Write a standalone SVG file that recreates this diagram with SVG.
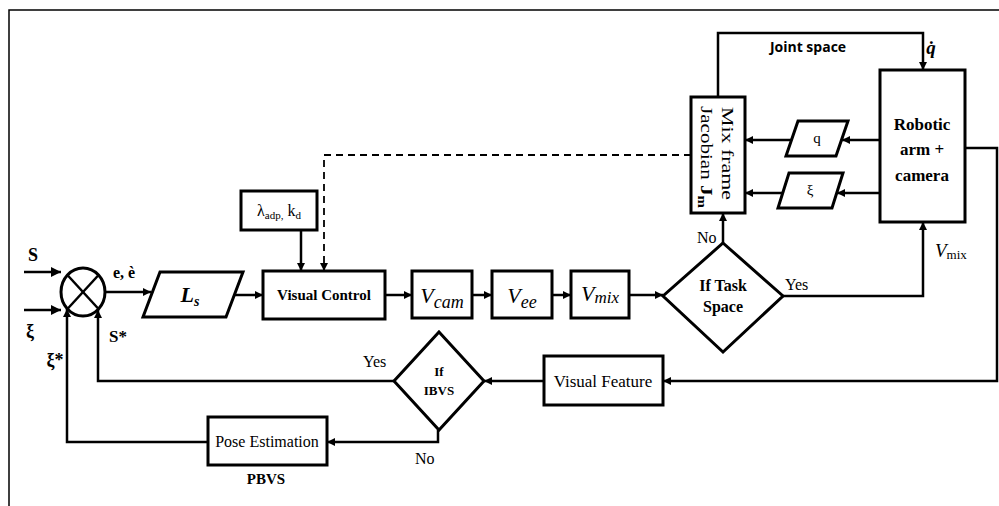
<svg xmlns="http://www.w3.org/2000/svg" width="999" height="506" viewBox="0 0 999 506">
<defs>
<marker id="ah" viewBox="0 0 10 10" refX="10" refY="5" markerWidth="9" markerHeight="8" markerUnits="userSpaceOnUse" orient="auto"><path d="M0,0 L10,5 L0,10 Z" fill="#000"/></marker>
<marker id="ahb" viewBox="0 0 10 10" refX="10" refY="5" markerWidth="11" markerHeight="10" markerUnits="userSpaceOnUse" orient="auto"><path d="M0,0 L10,5 L0,10 Z" fill="#000"/></marker>
</defs>
<style>
.box{fill:#fff;stroke:#000;stroke-width:3}
.ln{fill:none;stroke:#000;stroke-width:2.5}
.dash{fill:none;stroke:#000;stroke-width:1.8;stroke-dasharray:7,5}
.t{font-family:"Liberation Serif","Times New Roman",serif;fill:#000}
.b{font-weight:bold}
.i{font-style:italic}
</style>
<rect width="999" height="506" fill="#fff"/>
<path d="M9,506 V10 H999" fill="none" stroke="#000" stroke-width="1.5"/>

<g id="connectors">
<line x1="24" y1="272" x2="61" y2="272" class="ln" stroke-width="4" marker-end="url(#ahb)"/>
<line x1="24" y1="310" x2="61" y2="310" class="ln" stroke-width="4" marker-end="url(#ahb)"/>
<line x1="105" y1="292" x2="151" y2="292" class="ln" marker-end="url(#ah)"/>
<line x1="234" y1="295" x2="263" y2="295" class="ln" marker-end="url(#ah)"/>
<line x1="301" y1="230" x2="301" y2="271" class="ln" marker-end="url(#ah)"/>
<path d="M691,155 H324 V271" class="dash" marker-end="url(#ah)"/>
<line x1="385" y1="295" x2="412" y2="295" class="ln" marker-end="url(#ah)"/>
<line x1="472" y1="295" x2="492" y2="295" class="ln" marker-end="url(#ah)"/>
<line x1="552" y1="295" x2="571" y2="295" class="ln" marker-end="url(#ah)"/>
<line x1="629" y1="295" x2="663" y2="295" class="ln" marker-end="url(#ah)"/>
<line x1="723" y1="243" x2="723" y2="213" class="ln" marker-end="url(#ah)"/>
<path d="M783,296 H923 V222" class="ln" marker-end="url(#ah)"/>
<path d="M718,97 V33 H923 V70" class="ln" marker-end="url(#ah)"/>
<line x1="880" y1="140" x2="842" y2="140" class="ln" marker-end="url(#ah)"/>
<line x1="791" y1="140" x2="745" y2="140" class="ln" marker-end="url(#ah)"/>
<line x1="880" y1="193" x2="837" y2="193" class="ln" marker-end="url(#ah)"/>
<line x1="782" y1="193" x2="745" y2="193" class="ln" marker-end="url(#ah)"/>
<path d="M965,148 H997 V381 H663" class="ln" marker-end="url(#ah)"/>
<line x1="544" y1="381" x2="484" y2="381" class="ln" marker-end="url(#ah)"/>
<path d="M394,381 H98 V310" class="ln" marker-end="url(#ah)"/>
<path d="M438,430 V442 H327" class="ln" marker-end="url(#ah)"/>
<path d="M208,442 H67 V309" class="ln" marker-end="url(#ah)"/>
</g>

<g id="sum">
<ellipse cx="83" cy="292" rx="22" ry="24" class="box"/>
<line x1="67.4" y1="275" x2="98.6" y2="309" stroke="#000" stroke-width="2.5"/>
<line x1="98.6" y1="275" x2="67.4" y2="309" stroke="#000" stroke-width="2.5"/>
</g>

<g id="labels-left">
<text x="33" y="261" class="t b" font-size="18" text-anchor="middle">S</text>
<text x="30" y="337" class="t b" font-size="18" text-anchor="middle">ξ</text>
<text x="55" y="366" class="t b" font-size="18" text-anchor="middle">ξ*</text>
<text x="113" y="278" class="t b" font-size="16">e, è</text>
<text x="109" y="342" class="t b" font-size="17">S*</text>
</g>

<g id="Ls">
<polygon points="160,272 243,272 226,317 143,317" class="box"/>
<text x="190" y="302" class="t b i" font-size="22" text-anchor="middle">L<tspan font-size="14" dy="4">s</tspan></text>
</g>

<g id="lambda">
<rect x="241" y="191" width="76" height="39" class="box"/>
<text x="279" y="216" class="t" font-size="16" text-anchor="middle">λ<tspan font-size="11" dy="3">adp,</tspan><tspan dy="-3"> k</tspan><tspan font-size="11" dy="3">d</tspan></text>
</g>

<g id="visual-control">
<rect x="263" y="271" width="122" height="48" class="box"/>
<text x="324" y="300" class="t b" font-size="15" text-anchor="middle">Visual Control</text>
</g>

<g id="vcam">
<rect x="412" y="271" width="60" height="47" class="box"/>
<text x="442" y="303" class="t i" font-size="22" text-anchor="middle">V<tspan font-size="18" dy="5">cam</tspan></text>
</g>
<g id="vee">
<rect x="492" y="271" width="60" height="47" class="box"/>
<text x="522" y="303" class="t i" font-size="22" text-anchor="middle">V<tspan font-size="18" dy="5">ee</tspan></text>
</g>
<g id="vmix">
<rect x="571" y="271" width="58" height="47" class="box"/>
<text x="600" y="301" class="t i" font-size="22" text-anchor="middle">V<tspan font-size="17" dy="2">mix</tspan></text>
</g>

<g id="task-space">
<polygon points="723,243 783,296 723,352 663,296" class="box"/>
<text x="723" y="291" class="t b" font-size="16" text-anchor="middle">If Task</text>
<text x="723" y="312" class="t b" font-size="16" text-anchor="middle">Space</text>
<text x="785" y="290" class="t" font-size="16">Yes</text>
<text x="697" y="243" class="t" font-size="16">No</text>
</g>

<g id="mix-jacobian">
<rect x="691" y="97" width="54" height="116" class="box"/>
<text transform="translate(722,107) rotate(90)" class="t" font-size="17" textLength="93" lengthAdjust="spacingAndGlyphs">Mix frame</text>
<text transform="translate(701,106) rotate(90)" class="t" font-size="17" textLength="102" lengthAdjust="spacingAndGlyphs">Jacobian <tspan font-weight="bold">J</tspan><tspan font-weight="bold" font-size="12" dy="3">m</tspan></text>
</g>

<g id="joint-space">
<text x="808" y="52" font-family="'Open Sans','Liberation Sans',sans-serif" font-weight="bold" font-size="14" text-anchor="middle" fill="#000">Joint space</text>
<text x="931" y="54" class="t b i" font-size="19" text-anchor="middle" fill="#1f3a6e">q̇</text>
</g>

<g id="robot">
<rect x="880" y="70" width="85" height="152" class="box"/>
<text x="922" y="130" class="t b" font-size="17" text-anchor="middle">Robotic</text>
<text x="922" y="155" class="t b" font-size="17" text-anchor="middle">arm +</text>
<text x="922" y="181" class="t b" font-size="17" text-anchor="middle">camera</text>
<text x="935" y="257" class="t i" font-size="19">V<tspan font-style="normal" font-size="13" dy="2">mix</tspan></text>
</g>

<g id="q">
<polygon points="798,121 848,121 836,156 786,156" class="box"/>
<text x="817" y="143" class="t" font-size="15" text-anchor="middle">q</text>
</g>
<g id="xi">
<polygon points="789,173 843,173 832,208 778,208" class="box"/>
<text x="810" y="195" class="t" font-size="15" text-anchor="middle">ξ</text>
</g>

<g id="visual-feature">
<rect x="544" y="356" width="119" height="49" class="box"/>
<text x="603" y="387" class="t" font-size="17" text-anchor="middle">Visual Feature</text>
</g>

<g id="ibvs">
<polygon points="439,332 484,381 439,430 394,381" class="box"/>
<text x="439" y="376" class="t b" font-size="13" text-anchor="middle">If</text>
<text x="439" y="395" class="t b" font-size="13" text-anchor="middle">IBVS</text>
<text x="363" y="367" class="t" font-size="16">Yes</text>
<text x="415" y="464" class="t" font-size="16">No</text>
</g>

<g id="pose">
<rect x="208" y="417" width="119" height="48" class="box"/>
<text x="267" y="447" class="t" font-size="16" text-anchor="middle">Pose Estimation</text>
<text x="266" y="484" class="t b" font-size="15" text-anchor="middle">PBVS</text>
</g>
</svg>
